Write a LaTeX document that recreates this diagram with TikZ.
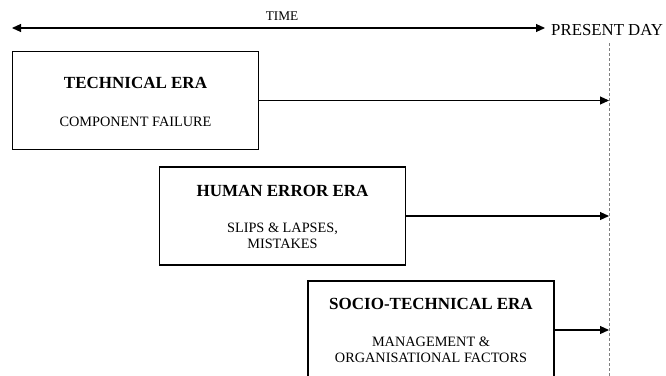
\documentclass[tikz,border=0pt]{standalone}
\usepackage{fontspec}
\setmainfont{Liberation Serif}
\usetikzlibrary{arrows.meta}
\tikzset{
  erabox/.style={draw=black, line width=1.1pt, minimum width=246pt, minimum height=98pt, inner sep=0pt},
  title/.style={font=\fontsize{17}{20}\selectfont\bfseries, inner sep=0pt},
  sub/.style={font=\fontsize{14.3}{15.5}\selectfont, align=center, inner sep=0pt},
  arr/.style={line width=1.1pt, -{Triangle[length=9pt,width=8pt]}},
  dash line/.style={draw=gray, line width=1pt, dash pattern=on 3pt off 2pt},
}
\begin{document}
\begin{tikzpicture}[x=1pt,y=-1pt]
\useasboundingbox (0,0) rectangle (666,375);
\clip (0,0) rectangle (666,375);
% time axis
\coordinate (tl) at (12,28);
\coordinate (tr) at (545,28);
\draw[line width=1.1pt, {Triangle[length=9pt,width=8pt]}-{Triangle[length=9pt,width=8pt]}] (tl) -- (tr);
\node[inner sep=0pt, font=\fontsize{13.3}{15}\selectfont] (time) at (282,16) {TIME};
\node[inner sep=0pt, anchor=west, font=\fontsize{16.8}{19}\selectfont] (pd) at (551,30) {PRESENT DAY};
% present day dashed line
\coordinate (dtop) at (609,43);
\coordinate (dbot) at (609,380);
\draw[dash line] (dtop) -- (dbot);
% boxes
\node[erabox] (b1) at (135.5,100.5) {};
\node[erabox] (b2) at (282.5,216) {};
\node[erabox] (b3) at (431,330) {};
% texts
\node[title] (t1) at (135.5,83) {TECHNICAL ERA};
\node[sub] (s1) at (135.5,122) {COMPONENT FAILURE};
\node[title] (t2) at (282.5,191) {HUMAN ERROR ERA};
\node[sub] (s2) at (282.5,236) {SLIPS \& LAPSES,\\MISTAKES};
\node[title] (t3) at (431,304) {SOCIO-TECHNICAL ERA};
\node[sub] (s3) at (431,350) {MANAGEMENT \&\\ORGANISATIONAL FACTORS};
% arrows to present day
\draw[arr] (b1.east) -- (b1.east -| dtop);
\draw[arr] (b2.east) -- (b2.east -| dtop);
\draw[arr] (b3.east) -- (b3.east -| dtop);
\end{tikzpicture}
\end{document}
